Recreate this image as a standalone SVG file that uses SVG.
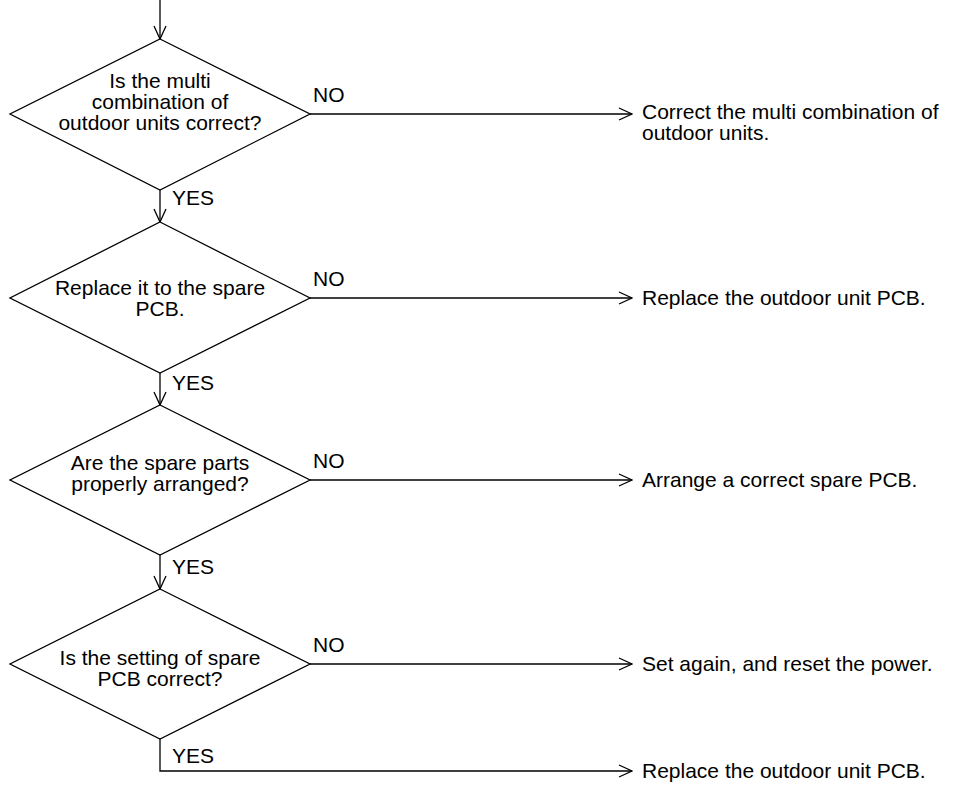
<svg xmlns="http://www.w3.org/2000/svg" width="957" height="789" viewBox="0 0 957 789">
<style>
.shape{fill:#fff;stroke:#000;stroke-width:1.3}
.conn{fill:none;stroke:#000;stroke-width:1.3}
text{font-family:"Liberation Sans",Arial,sans-serif;font-size:21px;fill:#000}
.c{text-anchor:middle}
</style>
<defs>
<marker id="arr" markerUnits="userSpaceOnUse" markerWidth="16" markerHeight="14" viewBox="-15 -7 16 14" refX="0" refY="0" orient="auto">
<path d="M-13,-6 L0,0 L-13,6" fill="none" stroke="#000" stroke-width="1.3"/>
</marker>
</defs>
<rect width="957" height="789" fill="#fff"/>
<g id="connectors">
<line class="conn" x1="160" y1="0" x2="160" y2="39" marker-end="url(#arr)"/>
<line class="conn" x1="160" y1="190" x2="160" y2="222" marker-end="url(#arr)"/>
<line class="conn" x1="160" y1="373" x2="160" y2="405" marker-end="url(#arr)"/>
<line class="conn" x1="160" y1="555" x2="160" y2="589" marker-end="url(#arr)"/>
<line class="conn" x1="310" y1="114" x2="632" y2="114" marker-end="url(#arr)"/>
<line class="conn" x1="310" y1="298" x2="632" y2="298" marker-end="url(#arr)"/>
<line class="conn" x1="310" y1="480" x2="632" y2="480" marker-end="url(#arr)"/>
<line class="conn" x1="310" y1="664" x2="632" y2="664" marker-end="url(#arr)"/>
<polyline class="conn" points="160,739 160,771 632,771" marker-end="url(#arr)"/>
<text x="313" y="102">NO</text>
<text x="313" y="286">NO</text>
<text x="313" y="468">NO</text>
<text x="313" y="652">NO</text>
<text x="172" y="205">YES</text>
<text x="172" y="390">YES</text>
<text x="172" y="574">YES</text>
<text x="172" y="763">YES</text>
</g>
<g id="d1">
<polygon class="shape" points="160,39 310,114 160,190 10,114"/>
<text class="c" x="160" y="88">Is the multi</text>
<text class="c" x="160" y="109">combination of</text>
<text class="c" x="160" y="130">outdoor units correct?</text>
</g>
<g id="d2">
<polygon class="shape" points="160,222 310,298 160,373 10,298"/>
<text class="c" x="160" y="295">Replace it to the spare</text>
<text class="c" x="160" y="316">PCB.</text>
</g>
<g id="d3">
<polygon class="shape" points="160,405 310,480 160,555 10,480"/>
<text class="c" x="160" y="470">Are the spare parts</text>
<text class="c" x="160" y="491">properly arranged?</text>
</g>
<g id="d4">
<polygon class="shape" points="160,589 310,664 160,739 10,664"/>
<text class="c" x="160" y="665">Is the setting of spare</text>
<text class="c" x="160" y="686">PCB correct?</text>
</g>
<g id="r1">
<text x="642" y="119">Correct the multi combination of</text>
<text x="642" y="140">outdoor units.</text>
</g>
<g id="r2"><text x="642" y="305">Replace the outdoor unit PCB.</text></g>
<g id="r3"><text x="642" y="487">Arrange a correct spare PCB.</text></g>
<g id="r4"><text x="642" y="671">Set again, and reset the power.</text></g>
<g id="r5"><text x="642" y="778">Replace the outdoor unit PCB.</text></g>
</svg>
